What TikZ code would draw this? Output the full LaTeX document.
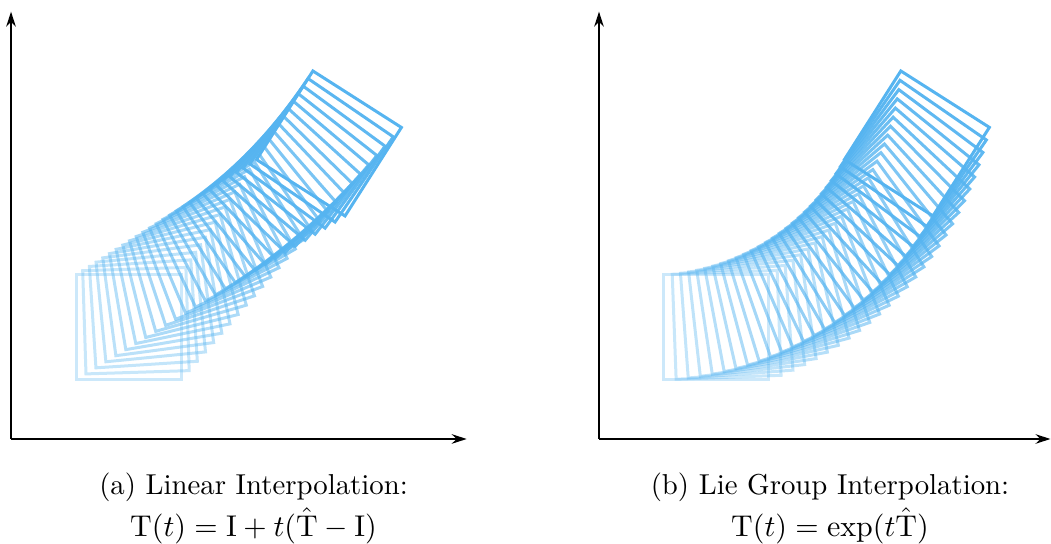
\documentclass[tikz,border=0pt]{standalone}
\usepackage{amsmath}
\usetikzlibrary{arrows.meta, calc}
\definecolor{poseblue}{HTML}{56B4F0}
\tikzstyle{axis} = [line width=0.5pt, -{Stealth[length=5pt,width=3.2pt]}, color=black]
\tikzstyle{pose} = [line width=1pt, color=poseblue, line join=miter]
\tikzstyle{caption} = [align=center, font=\fontsize{9.6}{12}\selectfont]

\begin{document}
\begin{tikzpicture}[x=35pt, y=35pt]
    \useasboundingbox (-0.105,-1.0) rectangle (9.905,4.181);
    % axes
    \coordinate (oA) at (0,0);
    \coordinate (xA) at (4.34,0);
    \coordinate (yA) at (0,4.07);
    \coordinate (oB) at (5.6,0);
    \coordinate (xB) at (9.9,0);
    \coordinate (yB) at (5.6,4.07);
    \draw[axis] (oA) -- (xA);
    \draw[axis] (oA) -- (yA);
    \draw[axis] (oB) -- (xB);
    \draw[axis] (oB) -- (yB);

    % start pose and end pose (left)
    \coordinate (p1) at (0.619,0.562);
    \coordinate (p2) at (1.619,0.562);
    \coordinate (p3) at (1.619,1.562);
    \coordinate (p4) at (0.619,1.562);
    \coordinate (q1) at (3.181,2.124);
    \coordinate (q2) at (3.718,2.967);
    \coordinate (q3) at (2.875,3.505);
    \coordinate (q4) at (2.338,2.661);
    \foreach \i in {0,...,27}{
        \pgfmathsetmacro{\s}{\i/27}
        \pgfmathsetmacro{\op}{0.3+0.7*\s}
        \draw[pose, draw opacity=\op] ($(p1)!\s!(q1)$) -- ($(p2)!\s!(q2)$)
            -- ($(p3)!\s!(q3)$) -- ($(p4)!\s!(q4)$) -- cycle;
    }

    % start pose and rotation centre (right)
    \coordinate (r1) at (6.219,0.562);
    \coordinate (r2) at (7.219,0.562);
    \coordinate (r3) at (7.219,1.562);
    \coordinate (r4) at (6.219,1.562);
    \coordinate (c) at (6.076,3.678);
    \foreach \i in {0,...,27}{
        \pgfmathsetmacro{\a}{57.5*\i/27}
        \pgfmathsetmacro{\op}{0.3+0.7*\i/27}
        \draw[pose, draw opacity=\op] ($(c)!1!\a:(r1)$) -- ($(c)!1!\a:(r2)$)
            -- ($(c)!1!\a:(r3)$) -- ($(c)!1!\a:(r4)$) -- cycle;
    }

    \node[caption] (capA) at (2.31,-0.66) {(a) Linear Interpolation:\\[2pt] $\mathrm{T}(t) = \mathrm{I} + t(\hat{\mathrm{T}} - \mathrm{I})$};
    \node[caption] (capB) at (7.8,-0.66) {(b) Lie Group Interpolation:\\[2pt] $\mathrm{T}(t) = \exp(t\hat{\mathrm{T}})$};
\end{tikzpicture}
\end{document}
